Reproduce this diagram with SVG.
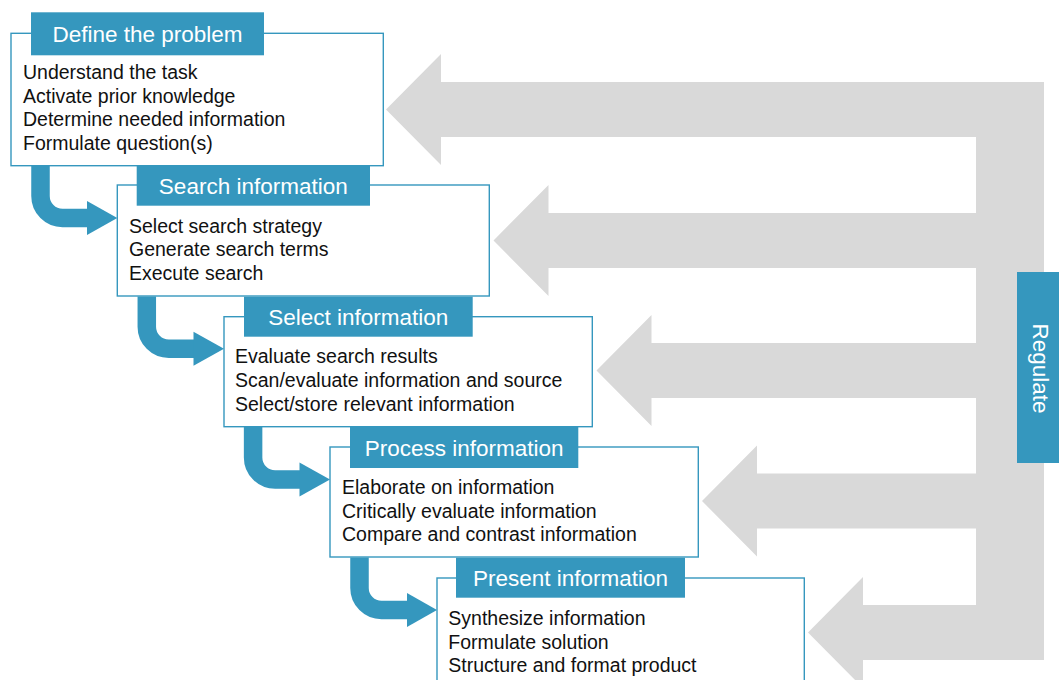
<svg xmlns="http://www.w3.org/2000/svg" width="1059" height="680" viewBox="0 0 1059 680">
  <style>
    .feedback { fill: #d9d9d9; }
    .box { fill: #ffffff; stroke: #3597be; stroke-width: 1.4; }
    .head { fill: #3597be; }
    .title { font-family: "Liberation Sans", Arial, sans-serif; font-size: 22.5px; fill: #ffffff; text-anchor: middle; }
    .item { font-family: "Liberation Sans", Arial, sans-serif; font-size: 19.5px; fill: #111111; }
    .link { fill: none; stroke: #3597be; stroke-width: 18.5; }
    .tip { fill: #3597be; }
  </style>
  <rect width="1059" height="680" fill="#ffffff"/>

  <!-- regulation feedback: vertical spine with arrows back into every step -->
  <g id="regulate-feedback">
    <rect class="feedback" x="976" y="82" width="68" height="578"/>
    <polygon class="feedback" points="386,109.5 441,54 441,82 977,82 977,137 441,137 441,165"/>
    <polygon class="feedback" points="493.5,240.5 548.5,185 548.5,213 977,213 977,268 548.5,268 548.5,296"/>
    <polygon class="feedback" points="596.5,370.5 651.5,315 651.5,343 977,343 977,398 651.5,398 651.5,426"/>
    <polygon class="feedback" points="702,501 757,445.5 757,473.5 977,473.5 977,528.5 757,528.5 757,556.5"/>
    <polygon class="feedback" points="808,632.5 863,577 863,605 977,605 977,660 863,660 863,688"/>
  </g>

  <g id="regulate">
    <rect class="head" x="1017" y="272" width="50" height="191"/>
    <text class="title" transform="translate(1033,368.5) rotate(90)" font-size="22">Regulate</text>
  </g>

  <g id="define-problem">
    <rect class="box" x="11" y="33.3" width="372.3" height="132.4"/>
    <rect class="head" x="31" y="12.3" width="233" height="43"/>
    <text class="title" x="147.5" y="42">Define the problem</text>
    <text class="item" x="23" y="79">Understand the task</text>
    <text class="item" x="23" y="102.7">Activate prior knowledge</text>
    <text class="item" x="23" y="126.3">Determine needed information</text>
    <text class="item" x="23" y="150">Formulate question(s)</text>
  </g>

  <g id="search-information">
    <rect class="box" x="117.3" y="185" width="372" height="111"/>
    <rect class="head" x="136.7" y="165.7" width="233.3" height="40"/>
    <text class="title" x="253.3" y="193.5">Search information</text>
    <text class="item" x="129" y="232.7">Select search strategy</text>
    <text class="item" x="129" y="256.3">Generate search terms</text>
    <text class="item" x="129" y="280">Execute search</text>
  </g>

  <g id="select-information">
    <rect class="box" x="224" y="316.7" width="368.3" height="110"/>
    <rect class="head" x="244" y="296.7" width="228.7" height="40"/>
    <text class="title" x="358.3" y="324.5">Select information</text>
    <text class="item" x="235" y="363.3">Evaluate search results</text>
    <text class="item" x="235" y="387">Scan/evaluate information and source</text>
    <text class="item" x="235" y="410.7">Select/store relevant information</text>
  </g>

  <g id="process-information">
    <rect class="box" x="330" y="447" width="368.3" height="110"/>
    <rect class="head" x="350" y="427" width="228.3" height="41"/>
    <text class="title" x="464.2" y="455.5">Process information</text>
    <text class="item" x="342" y="494">Elaborate on information</text>
    <text class="item" x="342" y="517.7">Critically evaluate information</text>
    <text class="item" x="342" y="541.3">Compare and contrast information</text>
  </g>

  <g id="present-information">
    <rect class="box" x="437" y="578" width="367.3" height="130"/>
    <rect class="head" x="456" y="557.7" width="229" height="40"/>
    <text class="title" x="570.5" y="585.5">Present information</text>
    <text class="item" x="448.3" y="625">Synthesize information</text>
    <text class="item" x="448.3" y="648.7">Formulate solution</text>
    <text class="item" x="448.3" y="672.3">Structure and format product</text>
  </g>

  <!-- step-to-step flow -->
  <g id="connectors">
    <path class="link" d="M40.5 166 V196 A22 22 0 0 0 62.5 218 H89"/>
    <polygon class="tip" points="87,201 117.3,218 87,235"/>
    <path class="link" d="M146.8 296.5 V326.7 A22 22 0 0 0 168.8 348.7 H195.5"/>
    <polygon class="tip" points="193.5,331.7 224,348.7 193.5,365.7"/>
    <path class="link" d="M253.1 427 V457.4 A22 22 0 0 0 275.1 479.4 H301.5"/>
    <polygon class="tip" points="299.5,462.4 330,479.4 299.5,496.4"/>
    <path class="link" d="M359.5 557.5 V588 A22 22 0 0 0 381.5 610 H409"/>
    <polygon class="tip" points="407,593 437,610 407,627"/>
  </g>
</svg>
